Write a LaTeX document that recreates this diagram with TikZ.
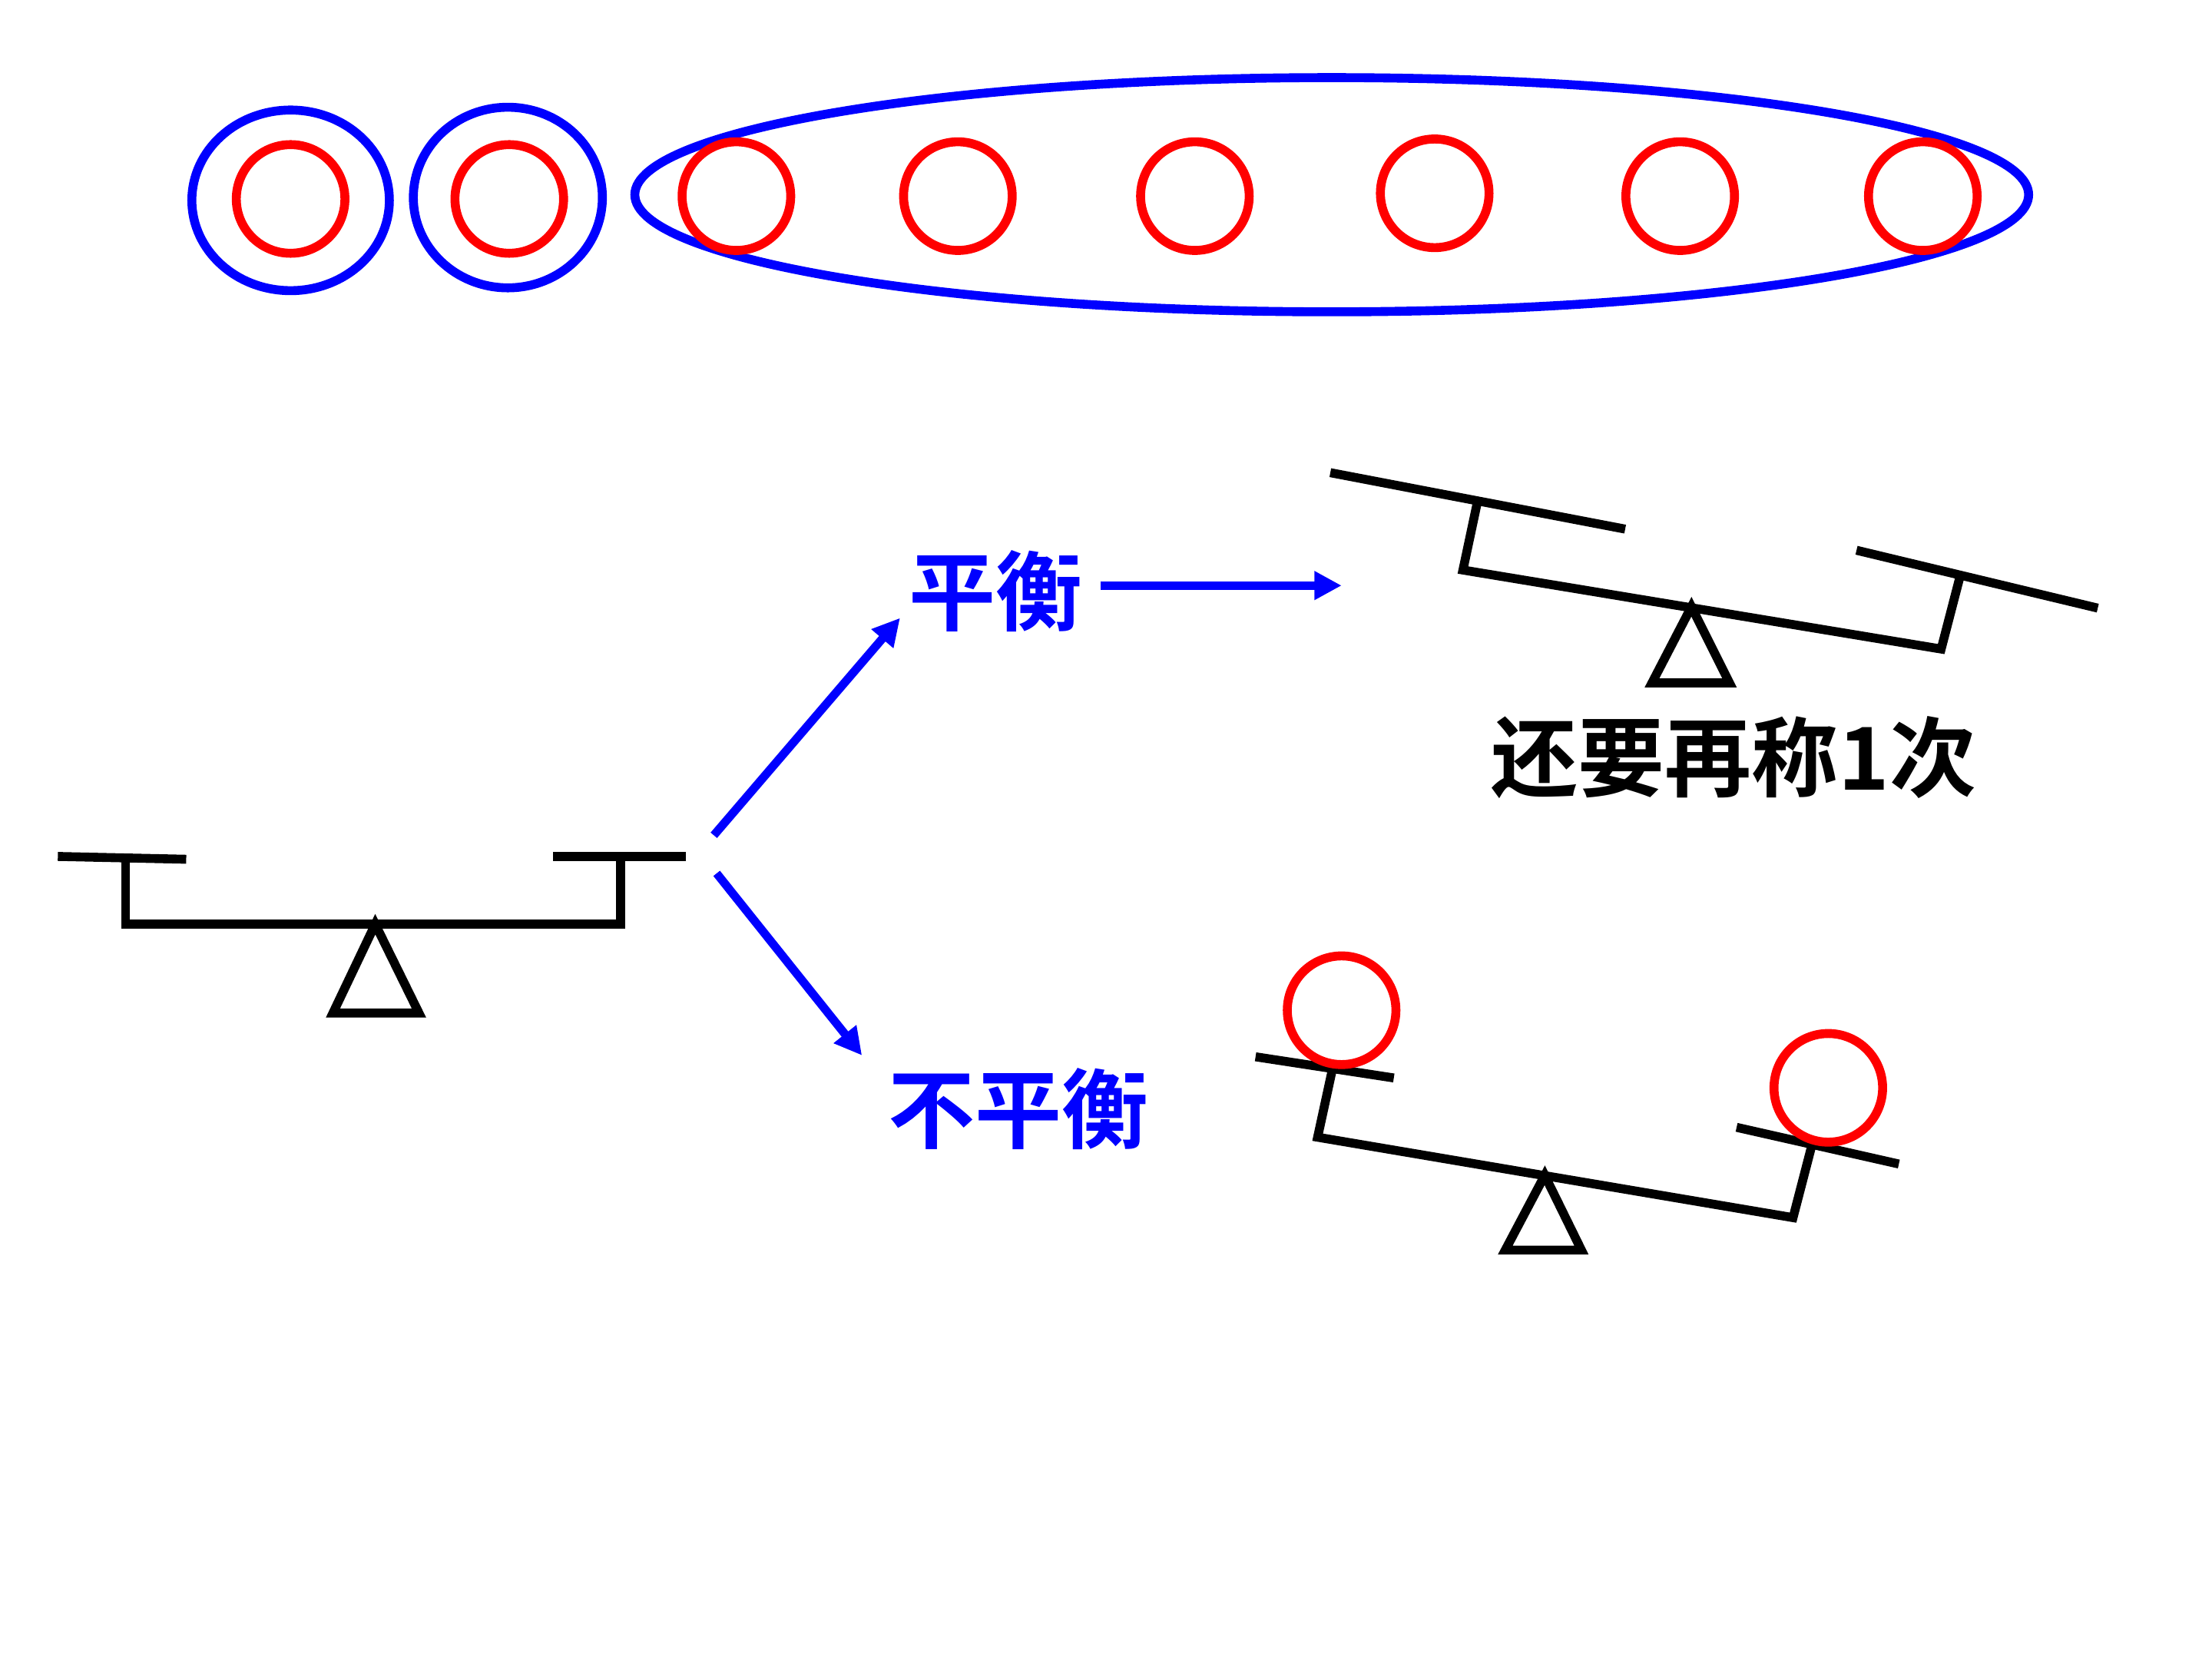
\documentclass[tikz,border=0pt]{standalone}
\usepackage{fontspec}
\newfontfamily\cjk{Noto Sans CJK SC}[BoldFont={Noto Sans CJK SC Bold}]
\usetikzlibrary{arrows.meta,calc}
\usepackage{tkz-euclide}
\definecolor{RingClr}{rgb}{0,0,1}
\definecolor{BallClr}{rgb}{1,0,0}

\begin{document}
\begin{tikzpicture}[x=0.2mm,y=-0.2mm,
  ring/.style={RingClr,line width=3.6pt},
  ball/.style={BallClr,line width=3.6pt},
  beam/.style={line width=3.6pt,color=black,line cap=butt,line join=miter},
  flow/.style={RingClr,line width=3.4pt,-{Triangle[length=11pt,width=11pt]}},
  word/.style={font=\cjk\bfseries\fontsize{35}{42}\selectfont,inner sep=0pt}]
\useasboundingbox (0,0) rectangle (1568,1176);
\tkzSetUpLine[line width=3.6pt,color=black]

\tkzDefPoint(206,142){O1}
\tkzDefPoint(360,140){O2}
\tkzDefPoint(944,138){O3}

\draw[ring] (O1) ellipse [x radius=70,y radius=64];
\draw[ring] (O2) ellipse [x radius=67,y radius=64];
\draw[ring] (O3) ellipse [x radius=494,y radius=83];

\draw[ball] (206,141) circle [radius=38.5];
\draw[ball] (361,141) circle [radius=38.5];
\draw[ball] (522,139) circle [radius=38.5];
\draw[ball] (679,139) circle [radius=38.5];
\draw[ball] (847,139) circle [radius=38.5];
\draw[ball] (1017,137) circle [radius=38.5];
\draw[ball] (1191,139) circle [radius=38.5];
\draw[ball] (1363,139) circle [radius=38.5];

\tkzDefPoint(41,607){A1}
\tkzDefPoint(132,609){A2}
\tkzDefPoint(89,609){A3}
\tkzDefPoint(89,655){A4}
\tkzDefPoint(440,655){A5}
\tkzDefPoint(440,607){A6}
\tkzDefPoint(392,607){A7}
\tkzDefPoint(486,607){A8}
\tkzDefPoint(266,655){A9}
\tkzDefPoint(236,718){A10}
\tkzDefPoint(297,718){A11}

\tkzDrawSegments[beam](A1,A2 A7,A8)
\tkzDrawPolySeg[beam](A3,A4,A5,A6)
\tkzDrawPolygon[beam](A9,A10,A11)

\tkzDefPoint(943,335){B1}
\tkzDefPoint(1152,375){B2}
\tkzDefPoint(1047,357){B3}
\tkzDefPoint(1037,404){B4}
\tkzDefPoint(1376,460){B5}
\tkzDefPoint(1389,410){B6}
\tkzDefPoint(1316,390){B7}
\tkzDefPoint(1487,431){B8}
\tkzDefPoint(1199,430){B9}
\tkzDefPoint(1171,484){B10}
\tkzDefPoint(1226,484){B11}

\tkzDrawSegments[beam](B1,B2 B7,B8)
\tkzDrawPolySeg[beam](B3,B4,B5,B6)
\tkzDrawPolygon[beam](B9,B10,B11)

\tkzDefPoint(890,749){C1}
\tkzDefPoint(988,764){C2}
\tkzDefPoint(944,760){C3}
\tkzDefPoint(934,806){C4}
\tkzDefPoint(1271,863){C5}
\tkzDefPoint(1284,813){C6}
\tkzDefPoint(1231,799){C7}
\tkzDefPoint(1346,825){C8}
\tkzDefPoint(1095,833){C9}
\tkzDefPoint(1067,886){C10}
\tkzDefPoint(1121,886){C11}

\tkzDrawSegments[beam](C1,C2 C7,C8)
\tkzDrawPolySeg[beam](C3,C4,C5,C6)
\tkzDrawPolygon[beam](C9,C10,C11)

\draw[ball] (951,716) circle [radius=38.5];
\draw[ball] (1296,771) circle [radius=38.5];

\node[word,text=RingClr] (bal) at (706,419) {平衡};
\node[word,text=RingClr] (unbal) at (722,786) {不平衡};
\node[word] (again) at (1229,537) {还要再称1次};

\tkzDefPoint(506,592){E1}
\tkzDefPoint(638,438){E2}
\tkzDefPoint(508,619){E3}
\tkzDefPoint(611,748){E4}
\tkzDefPoint(780,415){E5}
\tkzDefPoint(951,415){E6}

\draw[flow] (E1) -- (E2);
\draw[flow] (E3) -- (E4);
\draw[flow] (E5) -- (E6);

\end{tikzpicture}
\end{document}
